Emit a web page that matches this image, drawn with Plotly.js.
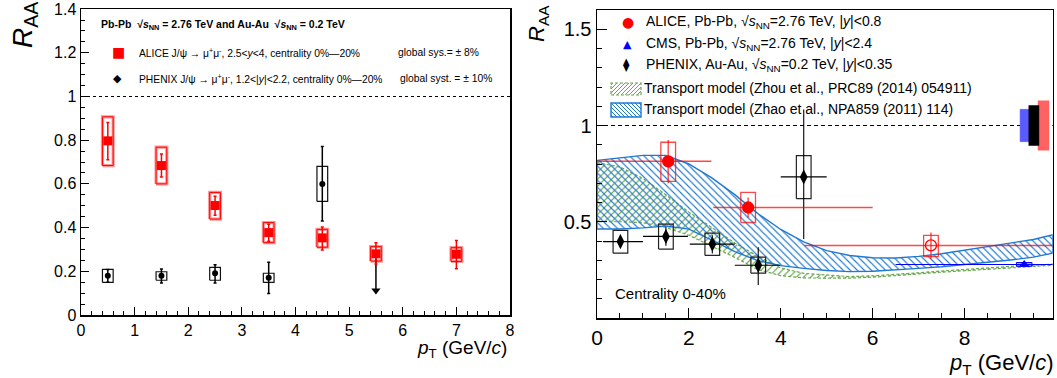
<!DOCTYPE html>
<html><head><meta charset="utf-8">
<script src="https://cdn.plot.ly/plotly-3.0.1.min.js"></script>
<style>html,body{margin:0;padding:0;background:#fff;}#chart{width:1057px;height:378px;}</style>
</head><body><div id="chart"></div>
<script>
// ---------------- Left panel (forward / PHENIX 1.2<|y|<2.2), centrality 0-20% ----------------
const leftAliceX       = [0.5, 1.5, 2.5, 3.5, 4.5, 5.5, 7.0];
const leftAliceY       = [0.797, 0.684, 0.501, 0.377, 0.353, 0.280, 0.278];
const leftAliceStatHi  = [0.881, 0.737, 0.543, 0.415, 0.403, 0.331, 0.341];
const leftAliceStatLo  = [0.711, 0.632, 0.456, 0.337, 0.298, 0.233, 0.212];
const leftAliceSysHi   = [0.907, 0.768, 0.561, 0.423, 0.392, 0.313, 0.308];
const leftAliceSysLo   = [0.684, 0.600, 0.439, 0.331, 0.310, 0.247, 0.245];

const leftPhenixX      = [0.5, 1.5, 2.5, 3.5, 4.5];
const leftPhenixY      = [0.180, 0.180, 0.191, 0.170, 0.600];
const leftPhenixStatHi = [0.208, 0.211, 0.230, 0.241, 0.771];
const leftPhenixStatLo = [0.150, 0.147, 0.147, 0.098, 0.430];
const leftPhenixSysHi  = [0.209, 0.198, 0.218, 0.191, 0.680];
const leftPhenixSysLo  = [0.149, 0.159, 0.159, 0.149, 0.520];
const leftPhenixLimitX    = [5.5];
const leftPhenixLimitFrom = [0.26];
const leftPhenixLimitTo   = [0.10];

const leftYTicks = ['0', '0.2', '0.4', '0.6', '0.8', '1', '1.2', '1.4'];

// ---------------- Right panel (mid rapidity), centrality 0-40% ----------------
const aliceMidX       = [1.55, 3.29, 7.27];
const aliceMidXLo     = [0.0, 2.53, 4.52];
const aliceMidXHi     = [2.49, 6.0, 9.92];
const aliceMidY       = [0.814, 0.574, 0.377];
const aliceMidStatHi  = [0.925, 0.626, 0.444];
const aliceMidStatLo  = [0.700, 0.521, 0.306];
const aliceMidSysHi   = [0.913, 0.653, 0.429];
const aliceMidSysLo   = [0.710, 0.496, 0.319];

const cmsX      = [9.30];
const cmsXLo    = [6.5];
const cmsXHi    = [9.92];
const cmsY      = [0.278];
const cmsSysHi  = [0.288];
const cmsSysLo  = [0.269];

const phenixMidX      = [0.51, 1.50, 2.51, 3.51, 4.50];
const phenixMidXLo    = [0.13, 1.0, 2.02, 3.0, 4.0];
const phenixMidXHi    = [1.0, 1.98, 3.0, 3.98, 5.0];
const phenixMidY      = [0.397, 0.424, 0.384, 0.274, 0.733];
const phenixMidStatHi = [0.432, 0.472, 0.430, 0.368, 1.083];
const phenixMidStatLo = [0.363, 0.375, 0.335, 0.172, 0.410];
const phenixMidSysHi  = [0.455, 0.488, 0.441, 0.316, 0.844];
const phenixMidSysLo  = [0.337, 0.358, 0.325, 0.233, 0.620];

// global uncertainties (CMS, PHENIX, ALICE), drawn around R_AA = 1
const globalUnc = [0.084, 0.104, 0.128];

// transport model bands
const bandX = [0,0.5,1.0,1.5,2.0,2.5,3.0,3.5,4.0,4.5,5.0,5.5,6.0,6.5,7.0,7.5,8.0,8.5,9.0,9.5,9.92];
const zhaoUpper = [0.819,0.832,0.845,0.845,0.800,0.728,0.641,0.543,0.460,0.395,0.350,0.325,0.313,0.312,0.320,0.334,0.352,0.372,0.388,0.408,0.432];
const zhaoLower = [0.462,0.462,0.468,0.478,0.462,0.405,0.345,0.298,0.272,0.258,0.247,0.241,0.243,0.250,0.258,0.266,0.277,0.290,0.301,0.316,0.337];
const zhouUpper = [0.807,0.785,0.725,0.640,0.550,0.470,0.390,0.320,0.260,0.232,0.222,0.215,0.219,0.226,0.235,0.244,0.253,0.261,0.268,0.274,0.280];
const zhouLower = [0.500,0.500,0.495,0.470,0.430,0.372,0.315,0.252,0.220,0.208,0.206,0.207,0.212,0.220,0.229,0.238,0.247,0.255,0.262,0.268,0.274];

// ---------------- helpers ----------------
const FONT = 'Liberation Sans, Arial, Helvetica, sans-serif';
const W = 1057, H = 378;
const PX = p => p / W, PY = p => 1 - p / H;

function boxes(xs, lo, hi, hw) {
  const x = [], y = [];
  xs.forEach((c, i) => {
    x.push(c - hw, c + hw, c + hw, c - hw, c - hw, null);
    y.push(lo[i], lo[i], hi[i], hi[i], lo[i], null);
  });
  return {x, y};
}
const diff = (a, b) => a.map((v, i) => v - b[i]);

function band(up, lo) {
  return {x: bandX.concat(bandX.slice().reverse(), [bandX[0]]),
          y: up.concat(lo.slice().reverse(), [up[0]])};
}

function hatchPath(x0, y0, x1, y1, step, dir) {
  let d = '';
  const w = x1 - x0, h = y1 - y0;
  for (let t = -h + step / 2; t < w; t += step) {
    let ax = x0 + t, ay = y1, bx = x0 + t + h, by = y0;
    if (ax < x0) { ay = y1 - (x0 - ax); ax = x0; }
    if (bx > x1) { by = y0 + (bx - x1); bx = x1; }
    if (dir === '\\') { ax = x0 + x1 - ax; bx = x0 + x1 - bx; }
    d += 'M' + PX(ax) + ',' + PY(ay) + 'L' + PX(bx) + ',' + PY(by);
  }
  return d;
}

const traces = [];
const RED = '#ff0000', REDL = 'rgba(255,0,0,0.72)', BLUE = '#0000ff';

// ---- left panel ----
const lab = boxes(leftAliceX, leftAliceSysLo, leftAliceSysHi, 0.1);
traces.push({x: lab.x, y: lab.y, mode: 'lines', line: {color: 'rgba(255,60,60,0.55)', width: 3.2}, xaxis: 'x', yaxis: 'y', hoverinfo: 'skip'});
traces.push({x: lab.x, y: lab.y, mode: 'lines', line: {color: RED, width: 1}, xaxis: 'x', yaxis: 'y', hoverinfo: 'skip'});
const lpb = boxes(leftPhenixX, leftPhenixSysLo, leftPhenixSysHi, 0.1);
traces.push({x: lpb.x, y: lpb.y, mode: 'lines', line: {color: '#111', width: 1.2}, xaxis: 'x', yaxis: 'y', hoverinfo: 'skip'});

traces.push({x: leftPhenixX, y: leftPhenixY, mode: 'markers', xaxis: 'x', yaxis: 'y',
  marker: {symbol: 'circle', size: 6, color: 'black'},
  error_y: {type: 'data', symmetric: false, array: diff(leftPhenixStatHi, leftPhenixY), arrayminus: diff(leftPhenixY, leftPhenixStatLo), color: 'black', thickness: 1.5, width: 1.5}});
// upper limit arrow
traces.push({x: [leftPhenixLimitX[0], leftPhenixLimitX[0]], y: [leftPhenixLimitFrom[0], leftPhenixLimitTo[0]], mode: 'lines', line: {color: 'black', width: 1.5}, xaxis: 'x', yaxis: 'y'});
traces.push({x: leftPhenixLimitX, y: leftPhenixLimitTo.map(v => v + 0.012), mode: 'markers', marker: {symbol: 'triangle-down', size: 8, color: 'black'}, xaxis: 'x', yaxis: 'y'});

traces.push({x: leftAliceX, y: leftAliceY, mode: 'markers', xaxis: 'x', yaxis: 'y',
  marker: {symbol: 'square', size: 9, color: RED},
  error_y: {type: 'data', symmetric: false, array: diff(leftAliceStatHi, leftAliceY), arrayminus: diff(leftAliceY, leftAliceStatLo), color: RED, thickness: 1.5, width: 1.5}});

// ---- right panel ----
const zhou = band(zhouUpper, zhouLower);
traces.push({x: zhou.x, y: zhou.y, mode: 'lines', fill: 'toself', xaxis: 'x2', yaxis: 'y2',
  line: {color: '#6aa84f', width: 1.2, dash: '3px,2px'}, fillcolor: 'rgba(255,255,255,0)',
  fillpattern: {shape: '/', fgcolor: '#6aa84f', bgcolor: 'rgba(255,255,255,0)', size: 5, solidity: 0.22}, hoverinfo: 'skip'});
const zhao = band(zhaoUpper, zhaoLower);
traces.push({x: zhao.x, y: zhao.y, mode: 'lines', fill: 'toself', xaxis: 'x2', yaxis: 'y2',
  line: {color: '#1f78d1', width: 1.4}, fillcolor: 'rgba(255,255,255,0)',
  fillpattern: {shape: '\\', fgcolor: '#1f78d1', bgcolor: 'rgba(255,255,255,0)', size: 5, solidity: 0.22}, hoverinfo: 'skip'});

// global uncertainty boxes
const globalCfg = [{c: 9.32, hw: 0.11, col: '#5a5aff'}, {c: 9.51, hw: 0.11, col: '#000000'}, {c: 9.72, hw: 0.12, col: '#ff6262'}];
[0, 2, 1].forEach(i => {
  const g = globalCfg[i];
  traces.push({x: [g.c - g.hw, g.c + g.hw, g.c + g.hw, g.c - g.hw, g.c - g.hw],
    y: [1 - globalUnc[i], 1 - globalUnc[i], 1 + globalUnc[i], 1 + globalUnc[i], 1 - globalUnc[i]],
    mode: 'lines', fill: 'toself', fillcolor: g.col, line: {color: g.col, width: 0.5}, xaxis: 'x2', yaxis: 'y2', hoverinfo: 'skip'});
});

// systematic boxes
const amb = boxes(aliceMidX, aliceMidSysLo, aliceMidSysHi, 0.16);
traces.push({x: amb.x, y: amb.y, mode: 'lines', line: {color: REDL, width: 1.3}, xaxis: 'x2', yaxis: 'y2', hoverinfo: 'skip'});
const pmb = boxes(phenixMidX, phenixMidSysLo, phenixMidSysHi, 0.16);
traces.push({x: pmb.x, y: pmb.y, mode: 'lines', line: {color: '#222', width: 1.2}, xaxis: 'x2', yaxis: 'y2', hoverinfo: 'skip'});
const cmb = boxes(cmsX, cmsSysLo, cmsSysHi, 0.17);
traces.push({x: cmb.x, y: cmb.y, mode: 'lines', fill: 'toself', fillcolor: 'rgba(80,80,255,0.45)', line: {color: BLUE, width: 1}, xaxis: 'x2', yaxis: 'y2', hoverinfo: 'skip'});

traces.push({x: phenixMidX, y: phenixMidY, mode: 'markers', xaxis: 'x2', yaxis: 'y2',
  marker: {symbol: 'diamond-tall', size: 11, color: 'black'},
  error_x: {type: 'data', symmetric: false, array: diff(phenixMidXHi, phenixMidX), arrayminus: diff(phenixMidX, phenixMidXLo), color: 'black', thickness: 1.1, width: 0},
  error_y: {type: 'data', symmetric: false, array: diff(phenixMidStatHi, phenixMidY), arrayminus: diff(phenixMidY, phenixMidStatLo), color: 'black', thickness: 1.1, width: 0}});

traces.push({x: cmsX, y: cmsY, mode: 'markers', xaxis: 'x2', yaxis: 'y2',
  marker: {symbol: 'triangle-up', size: 9, color: BLUE},
  error_x: {type: 'data', symmetric: false, array: diff(cmsXHi, cmsX), arrayminus: diff(cmsX, cmsXLo), color: BLUE, thickness: 1.2, width: 0}});

traces.push({x: aliceMidX, y: aliceMidY, mode: 'markers', xaxis: 'x2', yaxis: 'y2',
  marker: {symbol: ['circle', 'circle', 'circle-open'], size: 11, color: RED, line: {color: RED, width: 1.3}},
  error_x: {type: 'data', symmetric: false, array: diff(aliceMidXHi, aliceMidX), arrayminus: diff(aliceMidX, aliceMidXLo), color: REDL, thickness: 1.4, width: 0},
  error_y: {type: 'data', symmetric: false, array: diff(aliceMidStatHi, aliceMidY), arrayminus: diff(aliceMidY, aliceMidStatLo), color: REDL, thickness: 1.4, width: 0}});

// ---------------- layout ----------------
const axBase = {showgrid: false, zeroline: false, showline: true, mirror: true, linecolor: 'black', linewidth: 1.5,
  ticks: 'inside', tickcolor: 'black', tickwidth: 1, fixedrange: true, ticklabeloverflow: 'allow'};
const rightYMinor = []; for (let k = 1; k <= 16; k++) rightYMinor.push(+(k * 0.1).toFixed(2));
const leftYMinor = []; for (let k = 1; k <= 28; k++) leftYMinor.push(+(k * 0.05).toFixed(2));
const leftYVals = leftYTicks.map(Number);

const layout = {
  width: W, height: H, margin: {l: 0, r: 0, t: 0, b: 0}, showlegend: false,
  paper_bgcolor: 'white', plot_bgcolor: 'white', font: {family: FONT, color: 'black'},
  xaxis: Object.assign({}, axBase, {domain: [PX(81), PX(510)], range: [0, 8], tickmode: 'linear', tick0: 0, dtick: 1, ticklen: 8,
    minor: {ticks: 'inside', dtick: 0.2, ticklen: 4, tickcolor: 'black'}, anchor: 'y',
    tickfont: {family: 'Liberation Sans Narrow, Liberation Sans, Arial', size: 16, color: 'black'}}),
  yaxis: Object.assign({}, axBase, {domain: [PY(315), PY(9)], range: [0, 1.4004], tickmode: 'array', tickvals: leftYVals, ticktext: leftYTicks, ticklen: 8,
    minor: {ticks: 'inside', tickmode: 'array', tickvals: leftYMinor, ticklen: 4, tickcolor: 'black'}, anchor: 'x',
    tickfont: {family: FONT, size: 16, color: 'black'}}),
  xaxis2: Object.assign({}, axBase, {domain: [PX(597), PX(1052.7)], range: [0, 9.92], tickmode: 'linear', tick0: 0, dtick: 2, ticklen: 10,
    minor: {ticks: 'inside', dtick: 0.5, ticklen: 5, tickcolor: 'black'}, anchor: 'y2',
    tickfont: {family: FONT, size: 21, color: 'black'}}),
  yaxis2: Object.assign({}, axBase, {domain: [PY(318), PY(10)], range: [0, 1.6], tickmode: 'array', tickvals: [0.5, 1, 1.5], ticktext: ['0.5', '1', '1.5'], ticklen: 10,
    minor: {ticks: 'inside', tickmode: 'array', tickvals: rightYMinor, ticklen: 5, tickcolor: 'black'}, anchor: 'x2',
    tickfont: {family: FONT, size: 20, color: 'black'}}),
  shapes: [
    {type: 'line', xref: 'x domain', yref: 'y', x0: 0, x1: 1, y0: 1, y1: 1, line: {color: 'black', width: 1, dash: 'dot'}, layer: 'below'},
    {type: 'line', xref: 'x2 domain', yref: 'y2', x0: 0, x1: 1, y0: 1, y1: 1, line: {color: 'black', width: 1, dash: '4px,3px'}, layer: 'below'},
    // legend hatch boxes (right panel)
    {type: 'path', xref: 'paper', yref: 'paper', path: hatchPath(611, 83, 641, 95, 4, '/'), line: {color: '#6aa84f', width: 1}},
    {type: 'rect', xref: 'paper', yref: 'paper', x0: PX(611), x1: PX(641), y0: PY(95), y1: PY(83), line: {color: '#6aa84f', width: 1.2, dash: '3px,2px'}},
    {type: 'path', xref: 'paper', yref: 'paper', path: hatchPath(611, 103, 641, 117, 4, '\\'), line: {color: '#1f78d1', width: 1}},
    {type: 'rect', xref: 'paper', yref: 'paper', x0: PX(611), x1: PX(641), y0: PY(117), y1: PY(103), line: {color: '#1f78d1', width: 1.4}}
  ],
  annotations: []
};

function ann(text, x, y, size, opts) {
  layout.annotations.push(Object.assign({text: text, xref: 'paper', yref: 'paper', x: PX(x), y: PY(y), xanchor: 'left', yanchor: 'middle',
    showarrow: false, font: {family: FONT, size: size, color: 'black'}}, opts || {}));
}
const SQ = '\u221A<i>s</i><sub>NN</sub>';
// left legend
ann('<b>Pb-Pb  ' + SQ + ' = 2.76 TeV and Au-Au  ' + SQ + ' = 0.2 TeV</b>', 99, 25, 10.5);
ann('\u25A0', 110, 52, 14, {font: {family: 'DejaVu Sans', size: 14, color: RED}});
ann('ALICE J/\u03C8 \u2192 \u03BC<sup>+</sup>\u03BC<sup>-</sup>, 2.5&lt;<i>y</i>&lt;4, centrality 0%\u201420%', 137, 52, 10.3);
ann('global sys.= \u00B1 8%', 396, 52, 10.3);
ann('\u25C6', 111, 79, 11, {font: {family: 'DejaVu Sans', size: 11, color: 'black'}});
ann('PHENIX J/\u03C8 \u2192 \u03BC<sup>+</sup>\u03BC<sup>-</sup>, 1.2&lt;|<i>y</i>|&lt;2.2, centrality 0%\u201420%', 137, 79, 10.3);
ann('global syst. = \u00B1 10%', 398, 79, 10.3);
// right legend
ann('\u25CF', 620, 22, 14, {font: {family: 'DejaVu Sans', size: 14, color: RED}});
ann('ALICE, Pb-Pb, ' + SQ + '=2.76 TeV, |<i>y</i>|&lt;0.8', 644, 22, 14);
ann('\u25B2', 621, 44, 11, {font: {family: 'DejaVu Sans', size: 11, color: BLUE}});
ann('CMS, Pb-Pb, ' + SQ + '=2.76 TeV, |<i>y</i>|&lt;2.4', 644, 44, 14);
ann('\u29EB', 621, 65, 13, {font: {family: 'DejaVu Sans', size: 13, color: 'black'}});
ann('PHENIX, Au-Au, ' + SQ + '=0.2 TeV, |<i>y</i>|&lt;0.35', 644, 65, 14);
ann('Transport model (Zhou et al., PRC89 (2014) 054911)', 642, 88, 14);
ann('Transport model (Zhao et al., NPA859 (2011) 114)', 642, 109, 14);
ann('Centrality 0-40%', 613, 293, 15);
// axis titles
ann('<i>R</i><sub>AA</sub>', 24, 25, 28, {textangle: -90, xanchor: 'center'});
ann('<i>R</i><sub>AA</sub>', 538, 24, 22, {textangle: -90, xanchor: 'center'});
ann('<i>p</i><sub>T</sub> (GeV/<i>c</i>)', 509, 349, 19, {xanchor: 'right'});
ann('<i>p</i><sub>T</sub> (GeV/<i>c</i>)', 1056, 364, 22, {xanchor: 'right'});

Plotly.newPlot('chart', traces, layout, {staticPlot: true, displayModeBar: false});
</script>
</body></html>
